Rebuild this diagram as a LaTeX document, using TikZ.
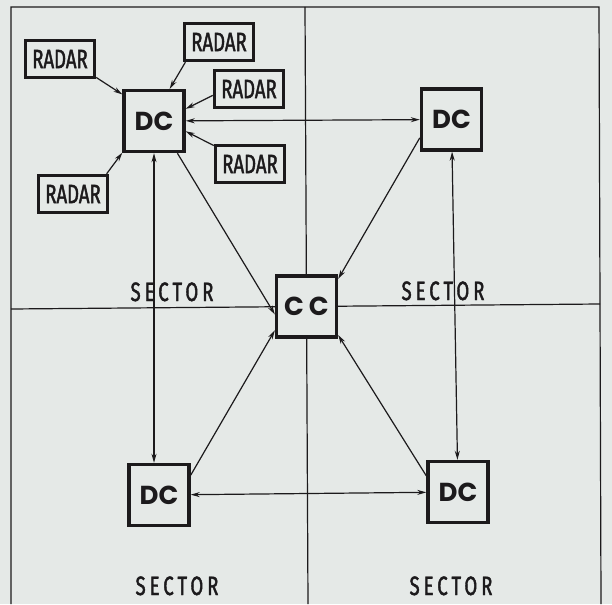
\documentclass[tikz,border=0pt]{standalone}
\usepackage{fontspec}
\usetikzlibrary{arrows.meta}
\newfontfamily\radarfont[FakeStretch=0.7,FakeBold=1.6]{Fira Sans}
\newfontfamily\sectorfont[FakeStretch=0.7,FakeBold=1.6,LetterSpace=15]{Fira Sans}
\newfontfamily\dcfont{Poppins}
\definecolor{paper}{RGB}{229,233,231}
\definecolor{ink}{RGB}{28,26,28}
\begin{document}
\begin{tikzpicture}[x=1pt,y=-1pt,
  thin line/.style={draw=ink, line width=1.2pt},
  box/.style={draw=ink, line width=3.4pt, fill=paper, inner sep=0pt, text=ink},
  dcbox/.style={box, minimum width=60pt, minimum height=61pt, font=\dcfont\bfseries\fontsize{26}{26}\selectfont},
  radarbox/.style={box, minimum width=69pt, minimum height=37pt, font=\radarfont\fontsize{26.5}{26.5}\selectfont},
  sectorlabel/.style={text=ink, inner sep=0pt, text height=18pt, text depth=0pt, font=\sectorfont\fontsize{26.5}{26.5}\selectfont},
  arr/.style={thin line, -{Stealth[length=9pt,width=5pt]}},
  biarr/.style={thin line, {Stealth[length=9pt,width=5pt]}-{Stealth[length=9pt,width=5pt]}}
]
\fill[paper] (0,0) rectangle (612,604);
\useasboundingbox (0,0) rectangle (612,604);
% frame and dividers
\draw[thin line] (11,604) -- (11,7) -- (599,7) -- (601,604);
\draw[thin line] (305,7) -- (308,604);
\draw[thin line] (11,309) -- (600,304);
% sector labels
\node[sectorlabel] (s1) at (172,292) {SECTOR};
\node[sectorlabel] (s2) at (443,291) {SECTOR};
\node[sectorlabel] (s3) at (177,586) {SECTOR};
\node[sectorlabel] (s4) at (451,586) {SECTOR};
% nodes
\node[dcbox] (dc1) at (154,121) {DC};
\node[dcbox] (dc2) at (451.5,119.5) {DC};
\node[dcbox] (dc3) at (159,495) {DC};
\node[dcbox] (dc4) at (458,492) {DC};
\node[dcbox] (cc) at (306.5,306.5) {C\kern5pt C};
\node[radarbox] (r1) at (60,59) {RADAR};
\node[radarbox] (r2) at (219,42) {RADAR};
\node[radarbox] (r3) at (249,89) {RADAR};
\node[radarbox] (r4) at (250,164) {RADAR};
\node[radarbox] (r5) at (73,194) {RADAR};
% radar arrows
\draw[arr] (r1.-27) -- (dc1.140);
\draw[arr] (r2.-149) -- (dc1.64);
\draw[arr] (r3.-170) -- (dc1.21);
\draw[arr] (r4.153) -- (dc1.-18);
\draw[arr] (r5.31) -- (dc1.-135);
% DC links
\draw[biarr] (dc1) -- (dc2);
\draw[biarr] (dc1.south) -- (dc1.south |- dc3.north);
\draw[biarr] (dc2) -- (dc4);
\draw[biarr] (dc3) -- (dc4);
% to CC
\draw[arr] (dc1.-54) -- (cc.-166);
\draw[arr] (dc2.-150) -- (cc.41);
\draw[arr] (dc3.32) -- (cc.-143);
\draw[arr] (dc4.153) -- (cc.-42);
\end{tikzpicture}
\end{document}
